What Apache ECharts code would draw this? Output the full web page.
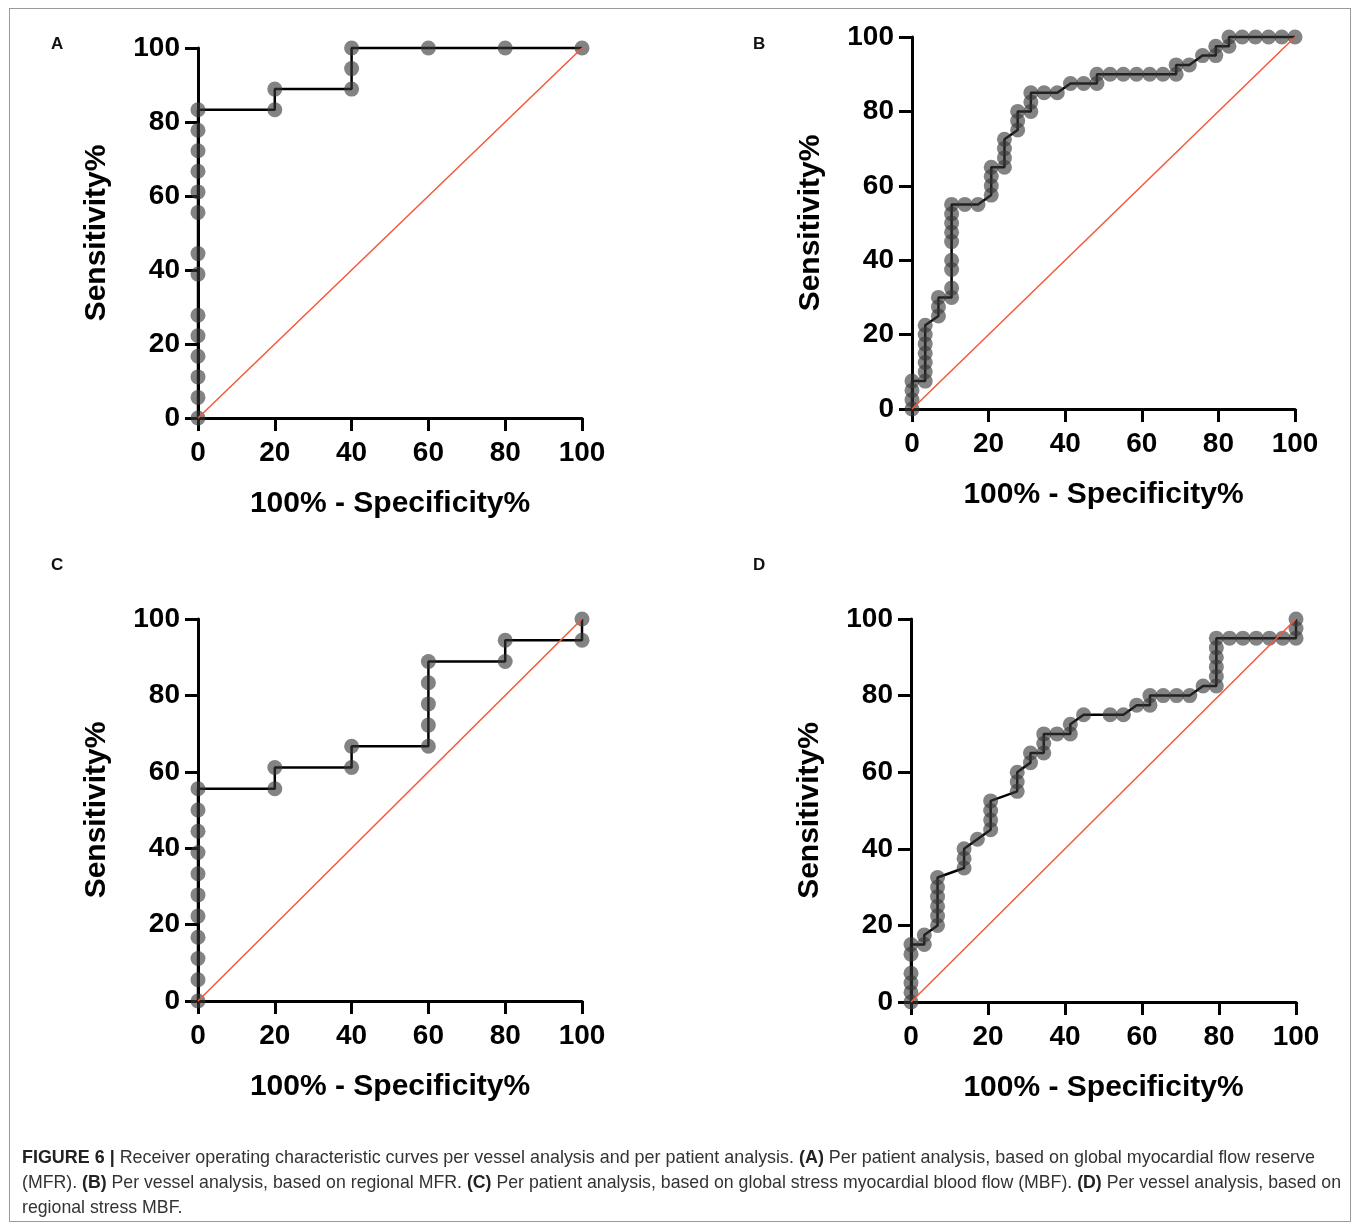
<!DOCTYPE html>
<html>
<head>
<meta charset="utf-8">
<script src="https://cdn.jsdelivr.net/npm/echarts@6/dist/echarts.min.js"></script>
<style>
  html, body { margin: 0; padding: 0; background: #fff; }
  #chart { position: absolute; left: 0; top: 0; width: 1357px; height: 1224px; }
  #frame { position: absolute; left: 9px; top: 8px; width: 1342px; height: 1214px; border: 1px solid #9a9a9a; box-sizing: border-box; pointer-events: none; }
  #caption { position: absolute; left: 22px; top: 1144px; color: #333; font-family: 'Liberation Sans Narrow', 'Liberation Sans', Arial, sans-serif; font-size: 19px; }
  #caption .ln { white-space: nowrap; width: max-content; height: 25px; line-height: 25px; transform-origin: 0 50%; }
  #caption b { color: #222; }
</style>
</head>
<body>
<div id="chart"></div>
<div id="frame"></div>
<div id="caption">
  <div class="ln" data-w="1293"><b>FIGURE 6 |</b> Receiver operating characteristic curves per vessel analysis and per patient analysis. <b>(A)</b> Per patient analysis, based on global myocardial flow reserve</div>
  <div class="ln" data-w="1319">(MFR). <b>(B)</b> Per vessel analysis, based on regional MFR. <b>(C)</b> Per patient analysis, based on global stress myocardial blood flow (MBF). <b>(D)</b> Per vessel analysis, based on</div>
  <div class="ln">regional stress MBF.</div>
</div>
<script>
// axis ticks (both axes, all panels)
const ticks = [0, 20, 40, 60, 80, 100];
const diag = [0, 100];
const panelLetters = ['A', 'B', 'C', 'D'];

// A - per patient, global MFR
const specA = [0, 0, 0, 0, 0, 0, 0, 0, 0, 0, 0, 0, 0, 0, 20, 20, 40, 40, 40, 60, 80, 100];
const sensA = [0, 5.56, 11.11, 16.67, 22.22, 27.78, 38.89, 44.44, 55.56, 61.11, 66.67, 72.22, 77.78, 83.33,
  83.33, 88.89, 88.89, 94.44, 100, 100, 100, 100];

// B - per vessel, regional MFR
const specB = [0, 0, 0, 0,
  3.45, 3.45, 3.45, 3.45, 3.45, 3.45, 3.45,
  6.9, 6.9, 6.9,
  10.34, 10.34, 10.34, 10.34, 10.34, 10.34, 10.34, 10.34, 10.34,
  13.79, 17.24,
  20.69, 20.69, 20.69, 20.69,
  24.14, 24.14, 24.14, 24.14,
  27.59, 27.59, 27.59,
  31.03, 31.03, 31.03,
  34.48, 37.93, 41.38, 44.83, 48.28, 48.28,
  51.72, 55.17, 58.62, 62.07, 65.52, 68.97, 68.97,
  72.41, 75.86, 79.31, 79.31, 82.76, 82.76, 86.21, 89.66, 93.1, 96.55, 100];
const sensB = [0, 2.5, 5, 7.5,
  7.5, 10, 12.5, 15, 17.5, 20, 22.5,
  25, 27.5, 30,
  30, 32.5, 37.5, 40, 45, 47.5, 50, 52.5, 55,
  55, 55,
  57.5, 60, 62.5, 65,
  65, 67.5, 70, 72.5,
  75, 77.5, 80,
  80, 82.5, 85,
  85, 85, 87.5, 87.5, 87.5, 90,
  90, 90, 90, 90, 90, 90, 92.5,
  92.5, 95, 95, 97.5, 97.5, 100, 100, 100, 100, 100, 100];

// C - per patient, global stress MBF
const specC = [0, 0, 0, 0, 0, 0, 0, 0, 0, 0, 0, 20, 20, 40, 40, 60, 60, 60, 60, 60, 80, 80, 100, 100];
const sensC = [0, 5.56, 11.11, 16.67, 22.22, 27.78, 33.33, 38.89, 44.44, 50, 55.56,
  55.56, 61.11, 61.11, 66.67, 66.67, 72.22, 77.78, 83.33, 88.89, 88.89, 94.44, 94.44, 100];

// D - per vessel, regional stress MBF
const specD = [0, 0, 0, 0, 0, 0,
  3.45, 3.45,
  6.9, 6.9, 6.9, 6.9, 6.9, 6.9,
  13.79, 13.79, 13.79,
  17.24, 20.69, 20.69, 20.69, 20.69,
  27.59, 27.59, 27.59,
  31.03, 31.03,
  34.48, 34.48, 34.48,
  37.93, 41.38, 41.38, 44.83, 51.72, 55.17, 58.62, 62.07, 62.07,
  65.52, 68.97, 72.41, 75.86,
  79.31, 79.31, 79.31, 79.31, 79.31, 79.31,
  82.76, 86.21, 89.66, 93.1, 96.55, 100, 100, 100];
const sensD = [0, 2.5, 5, 7.5, 12.5, 15,
  15, 17.5,
  20, 22.5, 25, 27.5, 30, 32.5,
  35, 37.5, 40,
  42.5, 45, 47.5, 50, 52.5,
  55, 57.5, 60,
  62.5, 65,
  65, 67.5, 70,
  70, 70, 72.5, 75, 75, 75, 77.5, 77.5, 80,
  80, 80, 80, 82.5,
  82.5, 85, 87.5, 90, 92.5, 95,
  95, 95, 95, 95, 95, 95, 97.5, 100];

const panels = [[specA, sensA], [specB, sensB], [specC, sensC], [specD, sensD]];

const grids = [
  { left: 198, top: 48, width: 384, height: 370 },
  { left: 912, top: 37, width: 383, height: 372 },
  { left: 198, top: 619, width: 384, height: 382 },
  { left: 911, top: 619, width: 385, height: 383 }
];
const letterPos = [[51, 36], [753, 36], [51, 557], [753, 557]];

const font = "'Liberation Sans', Arial, sans-serif";

function axisBase(i) {
  return {
    gridIndex: i,
    type: 'value',
    min: ticks[0],
    max: ticks[ticks.length - 1],
    interval: ticks[1] - ticks[0],
    axisLine: { show: true, onZero: false, lineStyle: { color: '#000', width: 3 } },
    axisTick: { show: true, length: 13, lineStyle: { color: '#000', width: 3 } },
    axisLabel: { fontSize: 28, fontWeight: 'bold', color: '#000', fontFamily: font },
    splitLine: { show: false },
    nameLocation: 'middle',
    nameTextStyle: { fontSize: 30, fontWeight: 'bold', color: '#000', fontFamily: font }
  };
}

const xAxes = [], yAxes = [], series = [];
panels.forEach(function (p, i) {
  const x = axisBase(i);
  x.name = '100% - Specificity%';
  x.nameGap = 71;
  x.axisLabel.margin = 21;
  xAxes.push(x);

  const y = axisBase(i);
  y.name = 'Sensitivity%';
  y.nameGap = 86;
  y.axisLabel.margin = 18;
  yAxes.push(y);

  series.push({
    type: 'line',
    xAxisIndex: i,
    yAxisIndex: i,
    data: p[0].map(function (v, k) { return [v, p[1][k]]; }),
    symbol: 'circle',
    symbolSize: 15,
    clip: false,
    itemStyle: { color: 'rgba(55,55,55,0.62)' },
    lineStyle: { color: '#000', width: 2.5 },
    z: 2
  });
  series.push({
    type: 'line',
    xAxisIndex: i,
    yAxisIndex: i,
    data: diag.map(function (v) { return [v, v]; }),
    symbol: 'none',
    clip: false,
    lineStyle: { color: '#f4583a', width: 1.5 },
    z: 3
  });
});

const chart = echarts.init(document.getElementById('chart'));
chart.setOption({
  animation: false,
  backgroundColor: 'transparent',
  grid: grids,
  xAxis: xAxes,
  yAxis: yAxes,
  series: series,
  graphic: panelLetters.map(function (t, i) {
    return {
      type: 'text',
      left: letterPos[i][0],
      top: letterPos[i][1],
      style: { text: t, fontSize: 17, fontWeight: 'bold', fill: '#111', fontFamily: font }
    };
  })
});

// squeeze the caption lines to the widths in the figure
const lines = document.querySelectorAll('#caption .ln');
let sx = 1;
lines.forEach(function (el) {
  const w = el.getAttribute('data-w');
  if (w) {
    sx = Number(w) / el.getBoundingClientRect().width;
  }
  el.style.transform = 'scaleX(' + sx + ')';
});
</script>
</body>
</html>
